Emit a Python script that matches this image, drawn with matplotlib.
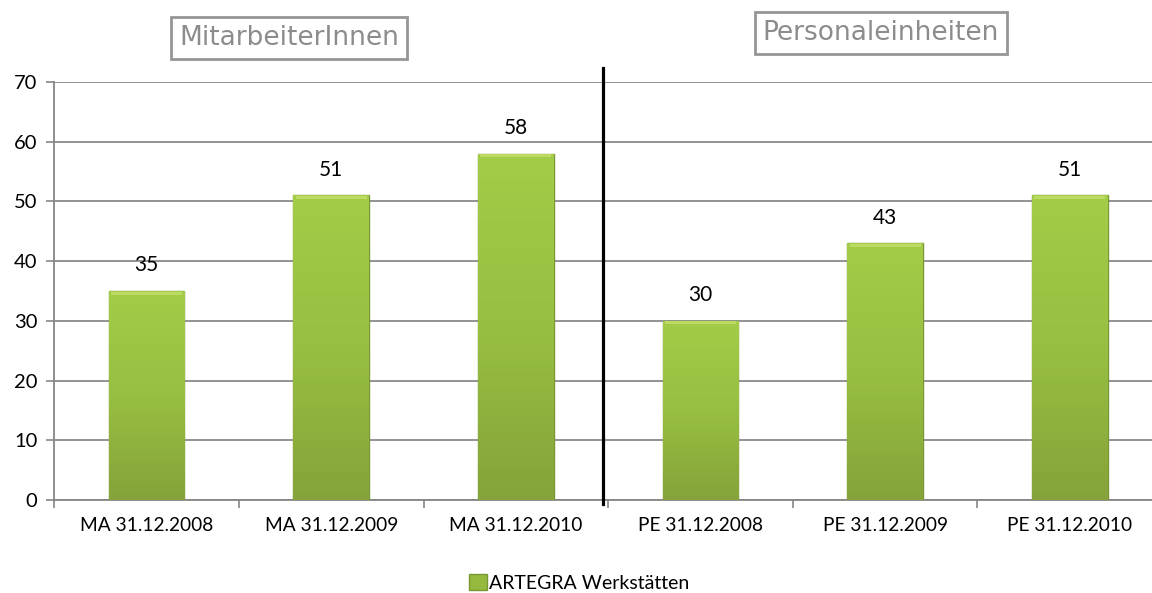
import matplotlib
matplotlib.use("Agg")
import matplotlib.pyplot as plt
import numpy as np
from matplotlib.patches import Patch

# data
categories = ["MA 31.12.2008", "MA 31.12.2009", "MA 31.12.2010",
              "PE 31.12.2008", "PE 31.12.2009", "PE 31.12.2010"]
values = [35, 51, 58, 30, 43, 51]
series_name = "ARTEGRA Werkstätten"
group_titles = ["MitarbeiterInnen", "Personaleinheiten"]

plt.rcParams['font.family'] = ['Lato', 'DejaVu Sans']

fig = plt.figure(figsize=(11.52, 5.93), dpi=100)
ax = fig.add_axes([0.0471, 0.1568, 0.9616, 0.7049])

x = np.arange(len(categories))
bw = 0.41
bars = ax.bar(x, values, width=bw, color="#94b93d", edgecolor="#7a9733",
              linewidth=1.0, zorder=3)

# vertical gradient on each bar (light top -> darker bottom)
grad = np.linspace(0, 1, 256).reshape(-1, 1)
cmap = matplotlib.colors.LinearSegmentedColormap.from_list(
    "g", ["#85a33a", "#98bf41", "#a3cc48"])
for b in bars:
    x0, y0 = b.get_x(), b.get_y()
    w, h = b.get_width(), b.get_height()
    im = ax.imshow(grad, cmap=cmap, aspect="auto", origin="lower",
                   extent=[x0, x0 + w, y0, y0 + h], zorder=3.5,
                   interpolation="bicubic")
    im.set_clip_path(b)
    # thin light bevel along the top
    ax.bar(x0 + w / 2, 0.5, bottom=y0 + h - 0.6, width=w * 0.94,
           color="#bddb62", linewidth=0, zorder=4)

for xi, v in zip(x, values):
    ax.text(xi, v + 2.6, str(v), ha="center", va="bottom", fontsize=15,
            color="black")

ax.set_xlim(-0.5, len(categories) - 0.5)
ax.set_ylim(0, 70)
ax.set_yticks(range(0, 71, 10))
ax.set_xticks(x)
ax.set_xticklabels(categories, fontsize=13.8)
ax.set_xticks(np.arange(-0.5, len(categories), 1), minor=True)
ax.tick_params(axis="x", which="major", length=0, pad=12)
ax.tick_params(axis="x", which="minor", length=6, color="#868686", width=1.2)
ax.tick_params(axis="y", length=6, color="#868686", width=1.2, labelsize=14.5,
               pad=6)
ax.yaxis.grid(True, color="#8a8a8a", linewidth=1.3, zorder=0)
ax.set_axisbelow(True)
for s in ["top", "right"]:
    ax.spines[s].set_visible(False)
for s in ["left", "bottom"]:
    ax.spines[s].set_color("#868686")
    ax.spines[s].set_linewidth(1.3)

# black separator between the two groups
ax.plot([2.47, 2.47], [-0.7, 72.3], color="black", linewidth=2.3,
        clip_on=False, zorder=5)

# group title boxes
box = dict(boxstyle="square,pad=0.3", facecolor="white", edgecolor="#969696",
           linewidth=2)
fig.text(289 / 1152, 1 - 38 / 593, group_titles[0], ha="center", va="center",
         fontsize=19, color="#8c8c8c", family="DejaVu Sans", bbox=box)
fig.text(881 / 1152, 1 - 33 / 593, group_titles[1], ha="center", va="center",
         fontsize=19, color="#8c8c8c", family="DejaVu Sans", bbox=box)

fig.legend(handles=[Patch(facecolor="#94b93d", edgecolor="#7a9733",
                          label=series_name)],
           loc="center", bbox_to_anchor=(579 / 1152, 1 - 583 / 593),
           frameon=False, fontsize=14, handlelength=0.9, handleheight=0.9,
           handletextpad=0.1)

fig.savefig("out.png", dpi=100)
